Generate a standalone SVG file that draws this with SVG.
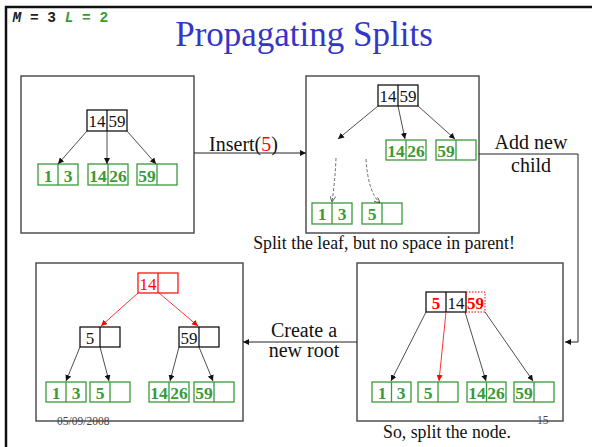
<svg xmlns="http://www.w3.org/2000/svg" width="592" height="447" viewBox="0 0 592 447">
<style>
.panel{fill:#fff;stroke:#444;stroke-width:1.4}
.nd{fill:none;stroke:#000;stroke-width:1.2}
.lf{fill:none;stroke:#3a9a3a;stroke-width:1.3}
.rd{fill:none;stroke:#f00;stroke-width:1.2}
.t{font-family:"Liberation Serif","Times New Roman",serif;font-size:17px;text-anchor:middle;fill:#111}
.lt{font-family:"Liberation Serif","Times New Roman",serif;font-size:17.5px;font-weight:bold;text-anchor:middle;fill:#3a9a3a}
.lbl{font-family:"Liberation Serif","Times New Roman",serif;font-size:20px;text-anchor:middle;fill:#111}
.cap{font-family:"Liberation Serif","Times New Roman",serif;font-size:17.8px;text-anchor:middle;fill:#111}
.ft{font-family:"Liberation Serif","Times New Roman",serif;font-size:11.5px;fill:#444}
.ar{stroke:#222;stroke-width:0.8;fill:none;marker-end:url(#ah)}
.arr{stroke:#f00;stroke-width:0.8;fill:none;marker-end:url(#ahr)}
.da{stroke:#444;stroke-width:0.8;fill:none;stroke-dasharray:3 2;marker-end:url(#aho)}
.cn{stroke:#222;stroke-width:1;fill:none;marker-end:url(#ah)}
</style>
<defs>
<marker id="ah" markerWidth="6" markerHeight="6" refX="6" refY="3" orient="auto" markerUnits="userSpaceOnUse"><path d="M0,0 L6,3 L0,6 z" fill="#111"/></marker>
<marker id="ahr" markerWidth="6" markerHeight="6" refX="6" refY="3" orient="auto" markerUnits="userSpaceOnUse"><path d="M0,0 L6,3 L0,6 z" fill="#f00"/></marker>
<marker id="aho" markerWidth="6" markerHeight="6" refX="6" refY="3" orient="auto" markerUnits="userSpaceOnUse"><path d="M0,0 L6,3 L0,6" fill="none" stroke="#444" stroke-width="0.8"/></marker>
</defs>
<rect width="592" height="447" fill="#fff"/>
<g id="frame">
<line x1="5" y1="7" x2="592" y2="7" stroke="#111" stroke-width="2.5"/>
<line x1="6" y1="6" x2="6" y2="447" stroke="#111" stroke-width="2.5"/>
</g>
<g id="header">
<text x="12.5" y="22" font-family="'Liberation Mono','Courier New',monospace" font-size="14.5" font-weight="bold" fill="#222"><tspan font-style="italic">M</tspan> = 3 <tspan fill="#3a9a3a"><tspan font-style="italic">L</tspan> = 2</tspan></text>
<text x="304" y="46" font-family="'Liberation Serif','Times New Roman',serif" font-size="35" text-anchor="middle" fill="#3535c8">Propagating Splits</text>
</g>
<g id="panel1">
<rect class="panel" x="21" y="76" width="173" height="157"/>
<rect class="nd" x="87" y="110" width="40" height="21"/><line class="nd" x1="107" y1="110" x2="107" y2="131"/>
<text class="t" x="97" y="127">14</text><text class="t" x="117" y="127">59</text>
<rect class="lf" x="38" y="164" width="40" height="21"/><line class="lf" x1="58" y1="164" x2="58" y2="185"/>
<text class="lt" x="48" y="182">1</text><text class="lt" x="68" y="182">3</text>
<rect class="lf" x="88" y="164" width="40" height="21"/><line class="lf" x1="108" y1="164" x2="108" y2="185"/>
<text class="lt" x="98" y="182">14</text><text class="lt" x="118" y="182">26</text>
<rect class="lf" x="137" y="164" width="40" height="21"/><line class="lf" x1="157" y1="164" x2="157" y2="185"/>
<text class="lt" x="147" y="182">59</text>
<line class="ar" x1="87" y1="131" x2="58" y2="164"/>
<line class="ar" x1="107" y1="131" x2="107" y2="164"/>
<line class="ar" x1="127" y1="131" x2="156" y2="164"/>
</g>
<g id="panel2">
<rect class="panel" x="306" y="76" width="173" height="157"/>
<rect class="nd" x="378" y="85" width="40" height="21"/><line class="nd" x1="398" y1="85" x2="398" y2="106"/>
<text class="t" x="388" y="102">14</text><text class="t" x="408" y="102">59</text>
<rect class="lf" x="386" y="140" width="40" height="20"/><line class="lf" x1="406" y1="140" x2="406" y2="160"/>
<text class="lt" x="396" y="157">14</text><text class="lt" x="416" y="157">26</text>
<rect class="lf" x="436" y="140" width="40" height="20"/><line class="lf" x1="456" y1="140" x2="456" y2="160"/>
<text class="lt" x="446" y="157">59</text>
<rect class="lf" x="312" y="203" width="40" height="21"/><line class="lf" x1="332" y1="203" x2="332" y2="224"/>
<text class="lt" x="322" y="220">1</text><text class="lt" x="342" y="220">3</text>
<rect class="lf" x="362" y="203" width="40" height="21"/><line class="lf" x1="382" y1="203" x2="382" y2="224"/>
<text class="lt" x="372" y="220">5</text>
<line class="ar" x1="378" y1="106" x2="338" y2="139"/>
<line class="ar" x1="398" y1="106" x2="405" y2="139"/>
<line class="ar" x1="418" y1="106" x2="455" y2="139"/>
<path class="da" d="M336,158 Q335,182 332,202"/>
<path class="da" d="M366,159 Q368,192 380,203"/>
</g>
<g id="panel3">
<rect class="panel" x="36" y="263" width="207" height="158"/>
<rect class="rd" x="138" y="273" width="40" height="20"/><line class="rd" x1="158" y1="273" x2="158" y2="293"/>
<text class="t" x="148" y="290" style="fill:#f00">14</text>
<rect class="nd" x="80" y="327" width="40" height="20"/><line class="nd" x1="100" y1="327" x2="100" y2="347"/>
<text class="t" x="90" y="344">5</text>
<rect class="nd" x="179" y="327" width="40" height="20"/><line class="nd" x1="199" y1="327" x2="199" y2="347"/>
<text class="t" x="189" y="344">59</text>
<rect class="lf" x="46" y="382" width="40" height="20"/><line class="lf" x1="66" y1="382" x2="66" y2="402"/>
<text class="lt" x="56" y="399">1</text><text class="lt" x="76" y="399">3</text>
<rect class="lf" x="90" y="382" width="40" height="20"/><line class="lf" x1="110" y1="382" x2="110" y2="402"/>
<text class="lt" x="100" y="399">5</text>
<rect class="lf" x="149" y="382" width="40" height="20"/><line class="lf" x1="169" y1="382" x2="169" y2="402"/>
<text class="lt" x="159" y="399">14</text><text class="lt" x="179" y="399">26</text>
<rect class="lf" x="194" y="382" width="40" height="20"/><line class="lf" x1="214" y1="382" x2="214" y2="402"/>
<text class="lt" x="204" y="399">59</text>
<line class="arr" x1="138" y1="293" x2="101" y2="326"/>
<line class="arr" x1="159" y1="293" x2="198" y2="326"/>
<line class="ar" x1="80" y1="347" x2="66" y2="381"/>
<line class="ar" x1="100" y1="347" x2="109" y2="381"/>
<line class="ar" x1="179" y1="347" x2="170" y2="381"/>
<line class="ar" x1="199" y1="347" x2="213" y2="381"/>
</g>
<g id="panel4">
<rect class="panel" x="357" y="263" width="206" height="158"/>
<rect class="nd" x="426" y="292" width="40" height="20"/><line class="nd" x1="446" y1="292" x2="446" y2="312"/>
<rect x="466" y="292" width="19" height="20" fill="none" stroke="#f00" stroke-width="1" stroke-dasharray="1.5 1.5"/>
<text class="t" x="436" y="309" style="fill:#f00;font-weight:bold">5</text>
<text class="t" x="456" y="309">14</text>
<text class="t" x="475.5" y="309" style="fill:#f00;font-weight:bold">59</text>
<rect class="lf" x="372" y="382" width="39" height="20"/><line class="lf" x1="391.5" y1="382" x2="391.5" y2="402"/>
<text class="lt" x="382" y="399">1</text><text class="lt" x="401" y="399">3</text>
<rect class="lf" x="418" y="382" width="40" height="20"/><line class="lf" x1="438" y1="382" x2="438" y2="402"/>
<text class="lt" x="428" y="399">5</text>
<rect class="lf" x="467" y="382" width="39" height="20"/><line class="lf" x1="486.5" y1="382" x2="486.5" y2="402"/>
<text class="lt" x="477" y="399">14</text><text class="lt" x="496" y="399">26</text>
<rect class="lf" x="514" y="382" width="40" height="20"/><line class="lf" x1="534" y1="382" x2="534" y2="402"/>
<text class="lt" x="524" y="399">59</text>
<line class="ar" x1="426" y1="312" x2="391" y2="381"/>
<line class="arr" x1="446" y1="312" x2="439" y2="381"/>
<line class="ar" x1="465" y1="312" x2="486" y2="381"/>
<line class="ar" x1="485" y1="312" x2="533" y2="381"/>
</g>
<g id="connectors">
<line class="cn" x1="194" y1="153" x2="306" y2="153"/>
<polyline class="cn" points="479,154 578,154 578,342 565,342"/>
<line class="cn" x1="357" y1="342" x2="243" y2="342"/>
</g>
<g id="labels">
<text class="lbl" x="243.5" y="151">Insert(<tspan fill="#f00">5</tspan>)</text>
<text class="lbl" x="531" y="149">Add new</text>
<text class="lbl" x="531" y="172">child</text>
<text class="cap" x="384" y="249">Split the leaf, but no space in parent!</text>
<text class="lbl" x="304" y="337">Create a</text>
<text class="lbl" x="304" y="357">new root</text>
<text class="cap" x="447" y="438">So, split the node.</text>
<text class="ft" x="57" y="425">05/09/2008</text>
<text class="ft" x="537" y="424">15</text>
</g>
</svg>
